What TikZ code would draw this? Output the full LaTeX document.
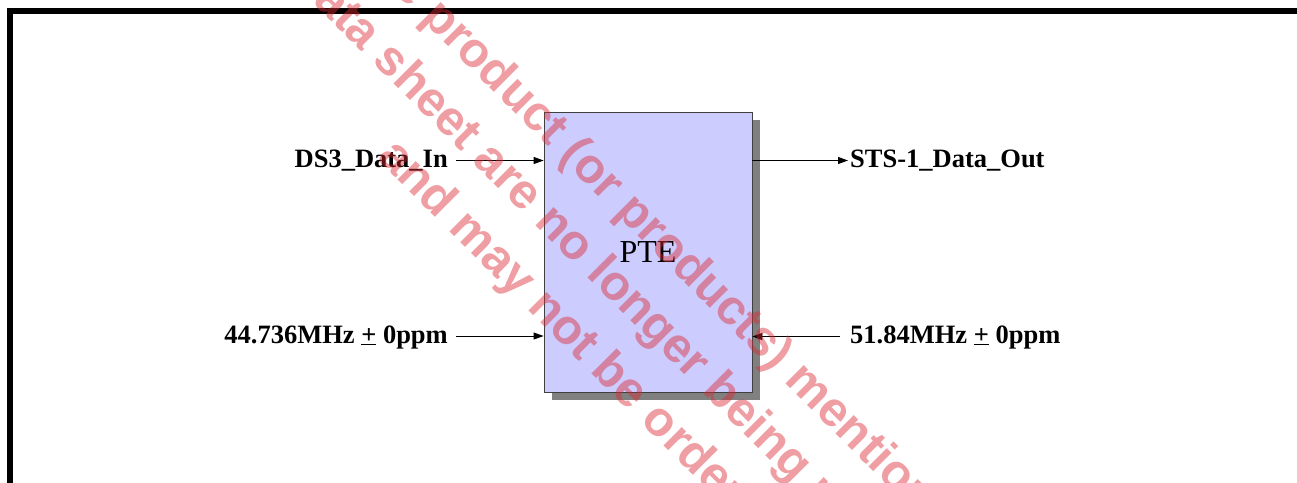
\documentclass[tikz,border=0pt]{standalone}
\usepackage{fontspec}
\setmainfont{Liberation Serif}
\newfontfamily\wmfont{Liberation Sans}
\usetikzlibrary{arrows.meta,shadows}
\definecolor{boxfill}{HTML}{CCCCFF}
\definecolor{wmred}{RGB}{220,40,50}
\begin{document}
\begin{tikzpicture}[x=1pt,y=-1pt,
 lbl/.style={font=\fontsize{26.5}{30}\selectfont\bfseries, inner ysep=0pt},
 conn/.style={line width=0.9pt, -{Triangle[length=10pt,width=7pt]}},
 wm/.style={rotate=-45, anchor=base west, inner sep=0pt, font=\wmfont\bfseries\fontsize{49}{55}\selectfont, text=wmred, text opacity=0.45}]
\useasboundingbox (0,0) rectangle (1297,482);
\clip (0,0) rectangle (1297,482);
\draw[line width=6pt] (10,11) rectangle (1400,600);
\node[draw=black!75, line width=0.8pt, fill=boxfill, minimum width=208pt, minimum height=280pt, inner sep=0pt,
  drop shadow={shadow xshift=8pt, shadow yshift=-8pt, opacity=1, fill=black!50},
  font=\fontsize{32}{36}\selectfont] (pte) at (648,252) {PTE};
% left inputs
\coordinate (inA) at (pte.west |- 0,160.5);
\node[lbl, inner xsep=8pt, anchor=base east] (din) at (456,167) {DS3\_Data\_In};
\draw[conn] (din.east |- inA) -- (inA);
\coordinate (inB) at (pte.west |- 0,336);
\node[lbl, inner xsep=8pt, anchor=base east] (fin) at (456,343) {44.736MHz \underline{+} 0ppm};
\draw[conn] (fin.east |- inB) -- (inB);
% right side
\coordinate (outA) at (pte.east |- 0,160.5);
\node[lbl, inner xsep=2pt, anchor=base west] (dout) at (848,167) {STS-1\_Data\_Out};
\draw[conn] (outA) -- (dout.west |- outA);
\coordinate (inC) at (pte.east |- 0,336.5);
\node[lbl, inner xsep=10pt, anchor=base west] (fout) at (840,343) {51.84MHz \underline{+} 0ppm};
\draw[conn] (fout.west |- inC) -- (inC);
% watermark
\node[wm] (wa) at (420,18) {\llap{The }product (or products) mentioned in this};
\node[wm] (wb) at (312,2) {\llap{d}ata sheet are no longer being manufactured};
\node[wm] (wc) at (376,158) {and may not be ordered.};
\end{tikzpicture}
\end{document}
